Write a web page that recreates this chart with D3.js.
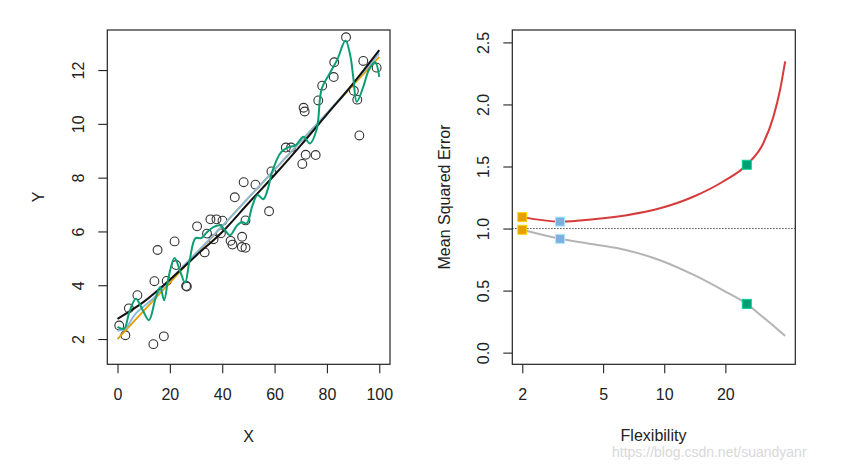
<!DOCTYPE html>
<html>
<head>
<meta charset="utf-8">
<style>
	body { margin: 0; background: #fff; }
	text { font-family: "Liberation Sans", Arial, sans-serif; fill: #222; }
</style>
</head>
<body>
<svg width="852" height="466"></svg>
<script src="https://d3js.org/d3.v7.min.js"></script>
<script>

	// Observed points (left panel).
	var obsX = [0.65, 3.0, 4.35, 7.6, 13.7, 17.7, 14.1, 18.8, 15.3, 21.8, 22.4, 26.2, 26.5, 30.4, 33.3,
		34.2, 35.5, 37.8, 40.1, 36.7, 39.5, 43.2, 43.9, 47.6, 47.5, 48.9, 48.9, 44.8, 48.2, 52.7,
		57.9, 58.8, 64.3, 66.3, 70.6, 71.9, 75.7, 71.1, 71.5, 76.7, 78.2, 82.6, 82.8, 87.3, 90.3,
		91.6, 93.9, 92.4, 99.0];
	var obsY = [2.50, 2.14, 3.14, 3.63, 1.81, 2.10, 4.15, 4.16, 5.31, 5.63, 4.75, 3.97, 3.95, 6.19, 5.22,
		5.92, 6.45, 6.45, 6.40, 5.71, 5.93, 5.65, 5.51, 5.80, 5.42, 5.39, 6.41, 7.27, 7.83, 7.74,
		6.75, 8.23, 9.12, 9.12, 8.51, 8.85, 8.84, 10.60, 10.46, 10.87, 11.42, 11.74, 12.29, 13.22, 11.23,
		10.90, 12.34, 9.57, 12.09];

	// True function (black).
	var trueX = [0, 10, 20, 30, 40, 50, 60, 70, 80, 90, 100];
	var trueY = [2.75, 3.38, 4.2, 5.1, 5.98, 7.05, 8.1, 9.2, 10.35, 11.5, 12.74];

	// Linear fit (orange).
	var linX = [0, 100];
	var linY = [2.0, 12.49];

	// Smoothing spline, moderate flexibility (blue).
	var smoothX = [0, 3, 7, 14, 20, 30, 40, 50, 60, 70, 80, 90, 100];
	var smoothY = [2.3, 2.4, 2.95, 3.55, 4.2, 5.2, 6.2, 7.25, 8.3, 9.35, 10.4, 11.5, 12.62];

	// Smoothing spline, high flexibility (green).
	var wiggleX = [0, 2.5, 4.5, 7, 9.5, 12, 14.5, 16.3, 17.8, 19.5, 21.8, 24, 25.8, 27.5, 29.8, 32, 34,
		36.6, 39.2, 41, 43, 45.5, 47.5, 49.4, 51.5, 53.5, 55.7, 57.5, 59, 62.5, 65.3, 68, 71, 73.5,
		76.1, 78, 81.2, 84, 87.1, 89, 90.1, 91.4, 93.9, 96, 98.4, 100];
	var wiggleY = [2.45, 2.38, 3.0, 3.5, 3.1, 2.7, 3.5, 3.93, 3.44, 4.3, 5.01, 4.5, 4.1, 4.9, 5.75, 5.75, 5.95,
		6.16, 6.23, 6.05, 5.86, 6.2, 6.35, 6.3, 6.95, 7.35, 7.2, 7.6, 8.2, 8.95, 9.13, 9.2, 9.52, 9.27,
		9.8, 11.3, 11.9, 12.4, 13.1, 12.5, 11.7, 10.82, 11.38, 12.0, 12.3, 11.75];

	// Right panel: MSE curves against flexibility.
	var flexX = [2, 3.07, 4.48, 6.54, 9.53, 13.9, 19.5, 25.5, 30.8, 34.5, 37.2, 39.4];
	var testMSE = [1.092, 1.056, 1.075, 1.108, 1.163, 1.256, 1.379, 1.514, 1.689, 1.902, 2.118, 2.347];
	var trainMSE = [0.990, 0.917, 0.873, 0.825, 0.745, 0.628, 0.502, 0.393, 0.283, 0.216, 0.170, 0.135];

	// Highlighted fits.
	var markFlex = [2, 3.07, 25.5];
	var markTest = [1.092, 1.056, 1.514];
	var markTrain = [0.990, 0.917, 0.393];
	var markColor = ["#E69F00", "#7CB0DE", "#009E73"];

	var leftXTicks = [0, 20, 40, 60, 80, 100];
	var leftYTicks = [2, 4, 6, 8, 10, 12];
	var rightXTicks = [2, 5, 10, 20];
	var rightYTicks = [0, 0.5, 1, 1.5, 2, 2.5];

	var svg = d3.select("svg"),
		plotTop = 30,
		plotBottom = 364.3;

	function zip(xs, ys) {
		return xs.map(function(d, i) { return [d, ys[i]]; });
	}

	// R style box plus axes with ticks pointing out.
	function frame(g, x, y, xt, yt, xfmt, yfmt) {
		var x0 = x.range()[0], x1 = x.range()[1];
		g.append("rect")
			.attr("x", x0).attr("y", plotTop)
			.attr("width", x1 - x0).attr("height", plotBottom - plotTop)
			.style("fill", "none").style("stroke", "#222").style("stroke-width", 1.2);

		var ax = g.append("g").attr("transform", "translate(0," + plotBottom + ")")
			.call(d3.axisBottom(x).tickValues(xt).tickFormat(xfmt).tickSize(9).tickPadding(15));
		var ay = g.append("g").attr("transform", "translate(" + x0 + ",0)")
			.call(d3.axisLeft(y).tickValues(yt).tickFormat(yfmt).tickSize(9).tickPadding(0));

		[ax, ay].forEach(function(a) {
			a.select(".domain").remove();
			a.selectAll("line").style("stroke", "#222").style("stroke-width", 1.1);
			a.selectAll("text").style("font-size", "16px").style("fill", "#222")
				.style("font-family", "'Liberation Sans', Arial, sans-serif");
		});

		// Tick labels on the y axis run parallel to it.
		ay.selectAll("text")
			.attr("x", null).attr("dy", null)
			.attr("text-anchor", "middle")
			.attr("transform", "translate(-23.3,0) rotate(-90)");
	}

	// ---------- left panel ----------
	var xL = d3.scaleLinear().domain([-3.9, 104.1]).range([107.3, 390]);
	var yL = d3.scaleLinear().domain([1.06, 13.49]).range([plotBottom, plotTop]);
	var gL = svg.append("g");

	frame(gL, xL, yL, leftXTicks, leftYTicks, d3.format("d"), d3.format("d"));

	gL.selectAll("circle")
		.data(zip(obsX, obsY))
		.enter().append("circle")
			.attr("cx", function(d) { return xL(d[0]); })
			.attr("cy", function(d) { return yL(d[1]); })
			.attr("r", 4.4)
			.style("fill", "none")
			.style("stroke", "#333")
			.style("stroke-width", 1.1);

	var lineL = d3.line()
		.x(function(d) { return xL(d[0]); })
		.y(function(d) { return yL(d[1]); })
		.curve(d3.curveCatmullRom.alpha(0.5));

	var fits = [
		{xs: linX, ys: linY, col: "#E69F00", w: 1.8},
		{xs: smoothX, ys: smoothY, col: "#86B8E2", w: 1.8},
		{xs: trueX, ys: trueY, col: "#111", w: 2},
		{xs: wiggleX, ys: wiggleY, col: "#0A9E74", w: 2}
	];
	fits.forEach(function(f) {
		gL.append("path")
			.attr("d", lineL(zip(f.xs, f.ys)))
			.style("fill", "none")
			.style("stroke", f.col)
			.style("stroke-width", f.w);
	});

	gL.append("text").attr("x", 248.5).attr("y", 441.5)
		.attr("text-anchor", "middle").style("font-size", "16px").text("X");
	gL.append("text").attr("transform", "translate(44,197) rotate(-90)")
		.attr("text-anchor", "middle").style("font-size", "16px").text("Y");

	// ---------- right panel ----------
	var xR = d3.scaleLog().domain([1.786, 44.2]).range([512.3, 795.3]);
	var yR = d3.scaleLinear().domain([-0.094, 2.60]).range([plotBottom, plotTop]);
	var gR = svg.append("g");

	frame(gR, xR, yR, rightXTicks, rightYTicks, d3.format("d"), d3.format(".1f"));

	// Irreducible error level.
	gR.append("line")
		.attr("x1", xR.range()[0]).attr("x2", xR.range()[1])
		.attr("y1", yR(1)).attr("y2", yR(1))
		.style("stroke", "#222").style("stroke-width", 1)
		.style("stroke-dasharray", "1.2,1.8");

	var lineR = d3.line()
		.x(function(d) { return xR(d[0]); })
		.y(function(d) { return yR(d[1]); })
		.curve(d3.curveMonotoneX);

	gR.append("path").attr("d", lineR(zip(flexX, trainMSE)))
		.style("fill", "none").style("stroke", "#B4B4B4").style("stroke-width", 2);
	gR.append("path").attr("d", lineR(zip(flexX, testMSE)))
		.style("fill", "none").style("stroke", "#D63B3B").style("stroke-width", 2);

	var marks = markFlex.map(function(f, i) { return {f: f, v: markTest[i], c: markColor[i]}; })
		.concat(markFlex.map(function(f, i) { return {f: f, v: markTrain[i], c: markColor[i]}; }));

	gR.selectAll(".mark")
		.data(marks)
		.enter().append("rect")
			.attr("class", "mark")
			.attr("x", function(d) { return xR(d.f) - 4.5; })
			.attr("y", function(d) { return yR(d.v) - 4.5; })
			.attr("width", 9)
			.attr("height", 9)
			.style("fill", function(d) { return d.c; })
			.style("stroke", function(d) { return d3.color(d.c).brighter(0.8); })
			.style("stroke-width", 1);

	gR.append("text").attr("x", 653.5).attr("y", 440.5)
		.attr("text-anchor", "middle").style("font-size", "16px").text("Flexibility");
	gR.append("text").attr("transform", "translate(449.5,197) rotate(-90)")
		.attr("text-anchor", "middle").style("font-size", "16px").text("Mean Squared Error");

	// Source watermark.
	svg.append("text").attr("x", 612).attr("y", 457)
		.style("font-size", "14px").style("fill", "#d8d8d8")
		.text("https://blog.csdn.net/suandyanr");

</script>
</body>
</html>
